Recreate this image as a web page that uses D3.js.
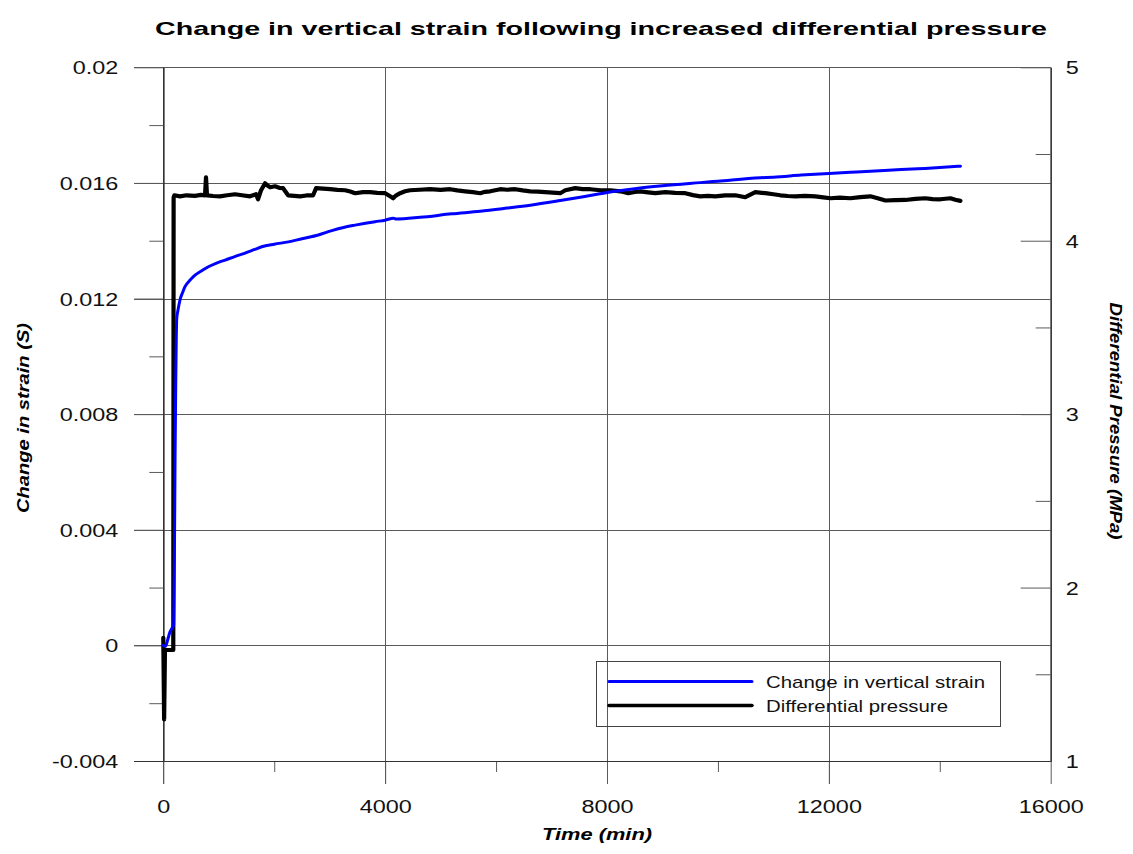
<!DOCTYPE html>
<html>
<head>
<meta charset="utf-8">
<script src="https://cdn.jsdelivr.net/npm/d3@7"></script>
<style>
  html, body { margin: 0; padding: 0; background: #fff; }
  svg { display: block; font-family: "Liberation Sans", Arial, sans-serif; }
</style>
</head>
<body>
<svg id="chart" width="1133" height="854"></svg>
<script>
// ---------------- DATA ----------------
const chartTitle = "Change in vertical strain following increased differential pressure";
const xTitle = "Time (min)";
const yLeftTitle = "Change in strain (S)";
const yRightTitle = "Differential Pressure (MPa)";
const seriesNames = ["Change in vertical strain", "Differential pressure"];

const xTickValues = [0, 4000, 8000, 12000, 16000];
const xTickLabels = ["0", "4000", "8000", "12000", "16000"];
const xMinorTicks = [2000, 6000, 10000, 14000];
const yLeftTickValues = [-0.004, 0, 0.004, 0.008, 0.012, 0.016, 0.02];
const yLeftTickLabels = ["-0.004", "0", "0.004", "0.008", "0.012", "0.016", "0.02"];
const yLeftMinorTicks = [-0.002, 0.002, 0.006, 0.010, 0.014, 0.018];
const yRightTickValues = [1, 2, 3, 4, 5];
const yRightTickLabels = ["1", "2", "3", "4", "5"];
const yRightMinorTicks = [1.5, 2.5, 3.5, 4.5];

// Change in vertical strain (left axis)
const strainTime = [0, 40, 80, 120, 160, 185, 200, 212, 224, 242, 265, 301, 350, 391, 480, 572, 700, 812, 950,
  1113, 1300, 1474, 1650, 1775, 2000, 2255, 2500, 2796, 3038, 3250, 3458, 3819, 4000, 4150, 4200, 4631, 5200,
  5714, 6200, 6616, 7157, 7600, 8004, 8500, 9000, 9682, 10000, 10764, 11000, 11500, 12000, 12500, 13000, 13600, 14000, 14372];
const strainValue = [0, -0.00003, 0.0002, 0.00046, 0.0006, 0.0007, 0.0030, 0.0065, 0.0090, 0.0113, 0.0116, 0.01195, 0.01222, 0.01241, 0.01263, 0.01281, 0.01297, 0.01310, 0.01322,
  0.01333, 0.01346, 0.01357, 0.01370, 0.01379, 0.01388, 0.01396, 0.01407, 0.01420, 0.01435, 0.01446, 0.01454, 0.01466, 0.01471, 0.01478, 0.01475, 0.01481, 0.01493,
  0.01502, 0.01513, 0.01523, 0.01539, 0.01553, 0.01567, 0.01580, 0.01590, 0.01601, 0.01606, 0.01618, 0.01620, 0.01627, 0.01633, 0.01638, 0.01643, 0.01649, 0.01653, 0.01658];

// Differential pressure (right axis)
const pressureTime = [0, 15, 30, 180, 186, 200, 301, 420, 572, 680, 752, 770, 788, 900, 1023, 1150, 1293, 1420, 1564, 1672,
  1708, 1762, 1835, 1880, 1925, 2015, 2090, 2160, 2250, 2360, 2467, 2580, 2701, 2755, 2880, 3007, 3140, 3278, 3370,
  3458, 3600, 3729, 3860, 4000, 4090, 4144, 4200, 4270, 4360, 4451, 4620, 4811, 5000, 5172, 5300, 5443, 5580, 5714,
  5800, 5894, 6075, 6200, 6345, 6480, 6616, 6750, 6887, 7020, 7157, 7248, 7428, 7560, 7699, 7879, 8060, 8240, 8385,
  8500, 8601, 8740, 8872, 9052, 9230, 9413, 9550, 9682, 9820, 9953, 10130, 10314, 10494, 10674, 10855, 11000, 11125,
  11260, 11396, 11570, 11757, 11900, 12027, 12200, 12388, 12568, 12749, 12880, 13020, 13200, 13380, 13560, 13741,
  13870, 14011, 14192, 14280, 14372];
const pressureValue = [1.71, 1.24, 1.64, 1.64, 4.25, 4.262, 4.256, 4.262, 4.259, 4.264, 4.262, 4.366, 4.262, 4.258, 4.256, 4.262, 4.268, 4.262, 4.256, 4.268,
  4.239, 4.291, 4.331, 4.318, 4.308, 4.314, 4.305, 4.303, 4.262, 4.259, 4.256, 4.261, 4.262, 4.303, 4.300, 4.297, 4.293, 4.291, 4.284,
  4.274, 4.280, 4.280, 4.276, 4.274, 4.256, 4.245, 4.262, 4.274, 4.285, 4.291, 4.294, 4.297, 4.293, 4.297, 4.290, 4.285, 4.280, 4.274,
  4.282, 4.285, 4.297, 4.294, 4.297, 4.290, 4.285, 4.283, 4.280, 4.277, 4.274, 4.291, 4.303, 4.298, 4.297, 4.291, 4.291, 4.285, 4.274,
  4.281, 4.285, 4.279, 4.274, 4.280, 4.276, 4.274, 4.263, 4.256, 4.259, 4.256, 4.261, 4.262, 4.251, 4.280, 4.274, 4.268, 4.262,
  4.258, 4.256, 4.259, 4.256, 4.250, 4.245, 4.248, 4.245, 4.251, 4.256, 4.245, 4.232, 4.234, 4.235, 4.241, 4.245,
  4.240, 4.239, 4.245, 4.236, 4.230];

// ---------------- LAYOUT ----------------
const svg = d3.select("#chart");
const L = 163.3, R = 1050.7, T = 67.3, B = 761;
const x = d3.scaleLinear().domain([0, 16000]).range([L, R]);
const yL = d3.scaleLinear().domain([-0.004, 0.02]).range([B, T]);
const yR = d3.scaleLinear().domain([1, 5]).range([B, T]);

const gridColor = "#5a5a5a";
const axisColor = "#333";

function stretch(sel, f) {
  sel.each(function () {
    const l = this.getComputedTextLength();
    d3.select(this).attr("textLength", l * f).attr("lengthAdjust", "spacingAndGlyphs");
  });
}

// Grid lines (horizontal extend outward to the left as major ticks)
svg.append("g").selectAll("line").data(yLeftTickValues).join("line")
  .attr("x1", 134).attr("x2", R)
  .attr("y1", d => Math.round(yL(d)) + 0.5).attr("y2", d => Math.round(yL(d)) + 0.5)
  .attr("stroke", gridColor).attr("stroke-width", 1);
// Vertical grid lines extend below as major ticks
svg.append("g").selectAll("line").data(xTickValues.slice(0, 4)).join("line")
  .attr("x1", d => Math.round(x(d)) + 0.5).attr("x2", d => Math.round(x(d)) + 0.5)
  .attr("y1", T).attr("y2", B + 23)
  .attr("stroke", gridColor).attr("stroke-width", 1);

// Axes
const fmtX = d => xTickLabels[xTickValues.indexOf(d)];
const fmtYL = d => yLeftTickLabels[yLeftTickValues.findIndex(v => Math.abs(v - d) < 1e-9)];
const fmtYR = d => yRightTickLabels[yRightTickValues.indexOf(d)];

const gx = svg.append("g").attr("transform", `translate(0,${B})`)
  .call(d3.axisBottom(x).tickValues(xTickValues).tickFormat(fmtX).tickSize(23).tickSizeOuter(0).tickPadding(16));
const gxm = svg.append("g").attr("transform", `translate(0,${B})`)
  .call(d3.axisBottom(x).tickValues(xMinorTicks).tickFormat("").tickSize(11).tickSizeOuter(0));
const gyl = svg.append("g").attr("transform", `translate(${L},0)`)
  .call(d3.axisLeft(yL).tickValues(yLeftTickValues).tickFormat(fmtYL).tickSize(29).tickSizeOuter(0).tickPadding(16));
const gylm = svg.append("g").attr("transform", `translate(${L},0)`)
  .call(d3.axisLeft(yL).tickValues(yLeftMinorTicks).tickFormat("").tickSize(14).tickSizeOuter(0));
const gyr = svg.append("g").attr("transform", `translate(${R},0)`)
  .call(d3.axisRight(yR).tickValues(yRightTickValues).tickFormat(fmtYR).tickSize(-30).tickSizeOuter(0).tickPadding(15));
const gyrm = svg.append("g").attr("transform", `translate(${R},0)`)
  .call(d3.axisRight(yR).tickValues(yRightMinorTicks).tickFormat("").tickSize(-15).tickSizeOuter(0));

[gx, gxm, gyl, gylm, gyr, gyrm].forEach(g => {
  g.selectAll("path.domain").attr("stroke", axisColor).attr("stroke-width", 1.2);
  g.selectAll(".tick line").attr("stroke", gridColor).attr("stroke-width", 1);
  g.selectAll("text").attr("font-size", 18).attr("font-family", "'Liberation Sans', Arial, sans-serif").attr("fill", "#111");
});
// bottom axis line extends to the left
svg.append("line").attr("x1", 134).attr("x2", R).attr("y1", B + 0.5).attr("y2", B + 0.5)
  .attr("stroke", axisColor).attr("stroke-width", 1.2);
gyl.selectAll("text").attr("dy", "0.36em");
gyr.selectAll("text").attr("dy", "0.36em");
stretch(gx.selectAll("text"), 1.3);
stretch(gyl.selectAll("text"), 1.3);
stretch(gyr.selectAll("text"), 1.3);

// ---------------- SERIES ----------------
const pressurePts = pressureTime.map((t, i) => [t, pressureValue[i]]);
const strainPts = strainTime.map((t, i) => [t, strainValue[i]]);

svg.append("path").datum(pressurePts)
  .attr("fill", "none").attr("stroke", "#000").attr("stroke-width", 4.2)
  .attr("stroke-linejoin", "round").attr("stroke-linecap", "round")
  .attr("d", d3.line().x(d => x(d[0])).y(d => yR(d[1])));

svg.append("path").datum(strainPts)
  .attr("fill", "none").attr("stroke", "#0000ff").attr("stroke-width", 3)
  .attr("stroke-linejoin", "round").attr("stroke-linecap", "round")
  .attr("d", d3.line().curve(d3.curveMonotoneX).x(d => x(d[0])).y(d => yL(d[1])));

// ---------------- LEGEND ----------------
const lg = svg.append("g");
lg.append("rect").attr("x", 596.5).attr("y", 661.5).attr("width", 404).attr("height", 65)
  .attr("fill", "none").attr("stroke", "#444").attr("stroke-width", 1);
const legendColors = ["#0000ff", "#000"];
const legendWidths = [3, 3.5];
const legendTextW = [219, 182];
seriesNames.forEach((name, i) => {
  const yy = 681.5 + i * 24;
  lg.append("line").attr("x1", 609).attr("x2", 752).attr("y1", yy).attr("y2", yy)
    .attr("stroke", legendColors[i]).attr("stroke-width", legendWidths[i]).attr("stroke-linecap", "round");
  lg.append("text").attr("x", 766).attr("y", yy + 6).attr("font-size", 17).attr("fill", "#111")
    .attr("textLength", legendTextW[i]).attr("lengthAdjust", "spacingAndGlyphs").text(name);
});

// ---------------- TITLES ----------------
svg.append("text").attr("x", 601).attr("y", 35).attr("text-anchor", "middle")
  .attr("font-size", 19).attr("font-weight", "bold").attr("fill", "#000")
  .attr("textLength", 892).attr("lengthAdjust", "spacingAndGlyphs").text(chartTitle);

svg.append("text").attr("x", 597).attr("y", 840).attr("text-anchor", "middle")
  .attr("font-size", 17).attr("font-weight", "bold").attr("font-style", "italic").attr("fill", "#000")
  .attr("textLength", 110).attr("lengthAdjust", "spacingAndGlyphs").text(xTitle);

svg.append("text").attr("transform", "translate(29,418) rotate(-90)").attr("text-anchor", "middle")
  .attr("font-size", 17).attr("font-weight", "bold").attr("font-style", "italic").attr("fill", "#000")
  .attr("textLength", 190).attr("lengthAdjust", "spacingAndGlyphs").text(yLeftTitle);

svg.append("text").attr("transform", "translate(1110,421) rotate(90)").attr("text-anchor", "middle")
  .attr("font-size", 17).attr("font-weight", "bold").attr("font-style", "italic").attr("fill", "#000")
  .attr("textLength", 237).attr("lengthAdjust", "spacingAndGlyphs").text(yRightTitle);
</script>
</body>
</html>
